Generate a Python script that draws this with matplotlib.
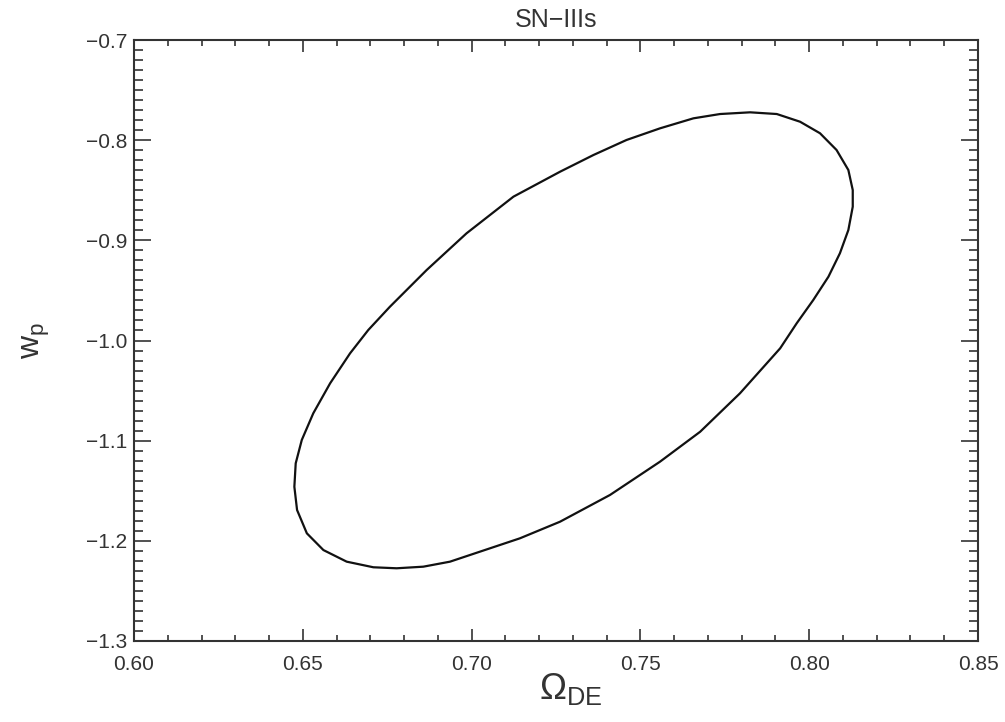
import numpy as np
import matplotlib
matplotlib.use("Agg")
import matplotlib.pyplot as plt
from matplotlib.ticker import MultipleLocator, FuncFormatter

plt.rcParams["font.family"] = ["Liberation Sans", "DejaVu Sans"]
plt.rcParams["mathtext.fontset"] = "custom"
plt.rcParams["mathtext.rm"] = "Liberation Sans"
plt.rcParams["mathtext.it"] = "Liberation Sans"

# contour (Omega_DE, w_p), going round from the left edge
omega_de = [0.6475, 0.6479, 0.6497, 0.6531, 0.6581, 0.6640, 0.6694, 0.6758,
            0.6867, 0.6985, 0.7124, 0.7262, 0.7361, 0.7459, 0.7558, 0.7657,
            0.7736, 0.7825, 0.7904, 0.7973, 0.8032, 0.8081, 0.8116, 0.8129,
            0.8129, 0.8116, 0.8091, 0.8057, 0.8012, 0.7963, 0.7914, 0.7795,
            0.7677, 0.7558, 0.7410, 0.7262, 0.7143, 0.6936, 0.6857, 0.6778,
            0.6709, 0.6630, 0.6561, 0.6512, 0.6483]
w_p = [-1.1460, -1.1226, -1.0993, -1.0727, -1.0427, -1.0128, -0.9895, -0.9663,
       -0.9296, -0.8930, -0.8564, -0.8315, -0.8148, -0.7998, -0.7882, -0.7782,
       -0.7739, -0.7722, -0.7739, -0.7816, -0.7931, -0.8098, -0.8298, -0.8498,
       -0.8664, -0.8897, -0.9129, -0.9363, -0.9596, -0.9828, -1.0078, -1.0527,
       -1.0911, -1.1210, -1.1542, -1.1809, -1.1975, -1.2208, -1.2258, -1.2274,
       -1.2264, -1.2208, -1.2092, -1.1925, -1.1692]

xc = np.array(omega_de + omega_de[:1])
yc = np.array(w_p + w_p[:1])

ink = "#333333"

fig = plt.figure(figsize=(10.05, 7.22), dpi=100)
ax = fig.add_axes([134 / 1005, 1 - 641 / 722, 844 / 1005, 601 / 722])

ax.fill(xc, yc, facecolor="none", edgecolor="#111111", lw=1.6,
        joinstyle="round")

ax.set_xlim(0.60, 0.85)
ax.set_ylim(-1.3, -0.7)
ax.xaxis.set_major_locator(MultipleLocator(0.05))
ax.xaxis.set_minor_locator(MultipleLocator(0.01))
ax.yaxis.set_major_locator(MultipleLocator(0.1))
ax.yaxis.set_minor_locator(MultipleLocator(0.01))
ax.xaxis.set_major_formatter(FuncFormatter(lambda v, p: ("%.2f" % v).replace("-", "\u2212")))
ax.yaxis.set_major_formatter(FuncFormatter(lambda v, p: ("%.1f" % v).replace("-", "\u2212")))

for s in ax.spines.values():
    s.set_linewidth(1.5)
    s.set_color(ink)

ax.tick_params(axis="x", which="both", direction="in", top=True, bottom=True,
               colors=ink, labelsize=15, pad=10)
ax.tick_params(axis="x", which="major", length=8.6, width=1.2)
ax.tick_params(axis="x", which="minor", length=4.3, width=1.2)
ax.tick_params(axis="y", which="both", direction="in", left=True, right=True,
               colors=ink, labelsize=15, pad=5)
ax.tick_params(axis="y", which="major", length=12.5, width=1.2)
ax.tick_params(axis="y", which="minor", length=6.3, width=1.2)

ax.set_title("SN\u2212IIIs", fontsize=18, color=ink, pad=9)
ax.set_xlabel(r"$\Omega_{\rm DE}$", fontsize=26, color=ink, labelpad=0)
ax.xaxis.set_label_coords(0.517, -0.05, transform=ax.transAxes)
ax.xaxis.label.set_va("top")
ax.set_ylabel(r"$w_{\rm p}$", fontsize=23, color=ink)
ax.yaxis.set_label_coords(-0.097, 0.5)

fig.savefig("out.png", dpi=100)
